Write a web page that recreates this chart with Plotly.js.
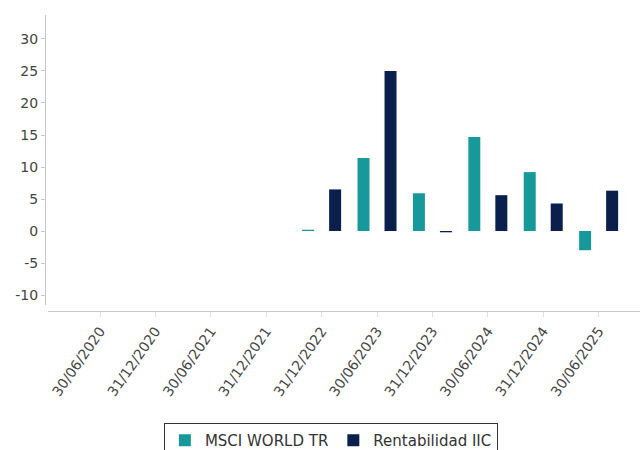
<!DOCTYPE html>
<html>
<head>
<meta charset="utf-8">
<script src="https://cdn.plot.ly/plotly-3.0.1.min.js"></script>
<style>html,body{margin:0;padding:0;background:#fff;}#chart{width:640px;height:450px;}</style>
</head>
<body>
<div id="chart"></div>
<script>
const categories = ["30/06/2020","31/12/2020","30/06/2021","31/12/2021","31/12/2022","30/06/2023","31/12/2023","30/06/2024","31/12/2024","30/06/2025"];
const msciWorld = [null, null, null, null, 0.2, 11.4, 5.9, 14.7, 9.2, -3.0];
const rentabilidadIIC = [null, null, null, null, 6.5, 25.0, -0.2, 5.6, 4.3, 6.3];
const seriesNames = ["MSCI WORLD TR", "Rentabilidad IIC"];
const yTickValues = [-10, -5, 0, 5, 10, 15, 20, 25, 30];
const yTickLabels = ["-10", "-5", "0", "5", "10", "15", "20", "25", "30"];

const traces = [
  {type:'bar', name: seriesNames[0], x: categories, y: msciWorld, marker:{color:'#17999b'}, hoverinfo:'x+y+name'},
  {type:'bar', name: seriesNames[1], x: categories, y: rentabilidadIIC, marker:{color:'#0b1f4d'}, hoverinfo:'x+y+name'}
];

const layout = {
  width: 640, height: 450,
  margin: {l:0, r:0, t:0, b:0, autoexpand:false},
  paper_bgcolor: '#fff', plot_bgcolor: '#fff',
  font: {family: 'DejaVu Sans', size: 14, color: '#444'},
  barmode: 'group', bargap: 0.025, bargroupgap: 0.556,
  showlegend: true,
  legend: {orientation:'h', x:0.517, xanchor:'center', y:0.06, yanchor:'top',
    bordercolor:'#333', borderwidth:1, font:{size:15, color:'#333'}, itemwidth:30,
    traceorder:'normal'},
  xaxis: {type:'category', domain:[0.075, 1], anchor:'free', position:0.3078,
    range:[-0.939, 9.747], tickangle:-55, showline:true, linecolor:'#c8c8c8', linewidth:1,
    ticks:'outside', ticklen:5, tickcolor:'#e0e0e0', showgrid:false, zeroline:false,
    tickfont:{size:14, color:'#444'}, automargin:false},
  yaxis: {domain:[0.3222, 0.9667], anchor:'free', position:0.0703,
    range:[-11.56, 33.75], tickmode:'array', tickvals:yTickValues, ticktext:yTickLabels,
    showline:true, linecolor:'#c8c8c8', linewidth:1,
    ticks:'outside', ticklen:4, tickcolor:'#c8c8c8', showgrid:false, zeroline:false,
    tickfont:{size:14, color:'#444'}, automargin:false}
};

Plotly.newPlot('chart', traces, layout, {displayModeBar:false, staticPlot:true});
</script>
</body>
</html>
